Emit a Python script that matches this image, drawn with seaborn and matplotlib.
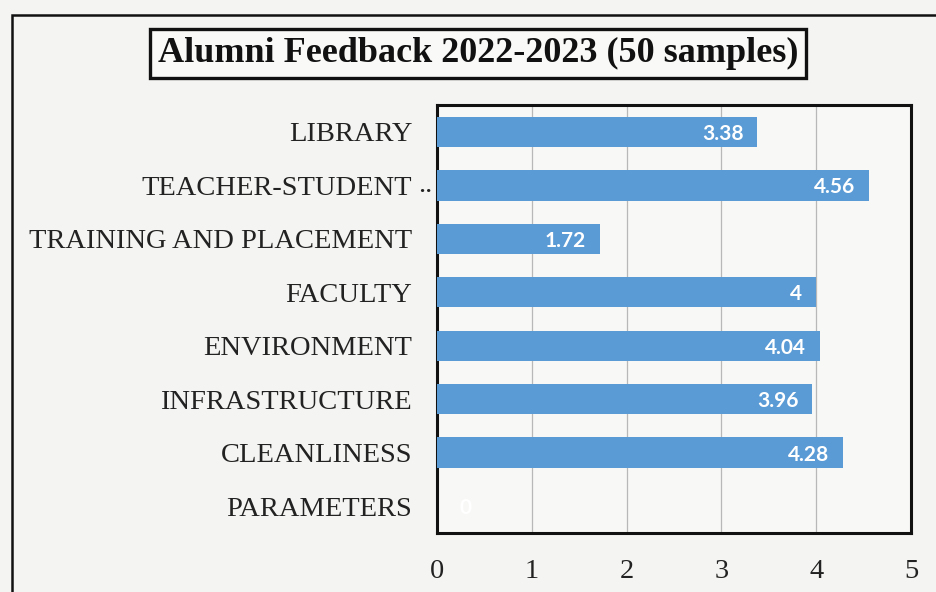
import pandas as pd
import seaborn as sns
import matplotlib.pyplot as plt
from matplotlib.patches import Rectangle

categories = ["LIBRARY", "TEACHER-STUDENT", "TRAINING AND PLACEMENT", "FACULTY",
              "ENVIRONMENT", "INFRASTRUCTURE", "CLEANLINESS", "PARAMETERS"]
scores = [3.38, 4.56, 1.72, 4, 4.04, 3.96, 4.28, 0]
x_ticks = [0, 1, 2, 3, 4, 5]

df = pd.DataFrame({"parameter": categories, "score": scores})

sns.set_style("white")
plt.rcParams["font.family"] = ["Liberation Serif", "DejaVu Serif"]

fig = plt.figure(figsize=(9.37, 5.92), dpi=100, facecolor="#f4f4f2")
ax = fig.add_axes([0.4664, 0.0997, 0.5059, 0.7229])
ax.set_facecolor("#f8f8f6")

sns.barplot(data=df, x="score", y="parameter", orient="h", color="#5b9bd5",
            width=0.57, saturation=1, linewidth=0, ax=ax, zorder=3)

ax.set_xlim(0, 5)
ax.set_ylim(7.5, -0.5)
ax.set_xticks(x_ticks)
ax.set_xlabel("")
ax.set_ylabel("")
ax.grid(axis="x", color="#b8b8b8", lw=0.9, zorder=0)
ax.tick_params(axis="both", length=0, labelsize=20.5, colors="#222222")
ax.tick_params(axis="y", pad=18)
ax.tick_params(axis="x", pad=19)
for s in ax.spines.values():
    s.set_visible(True)
    s.set_color("#111111")
    s.set_linewidth(2.2)

# truncated label ellipsis like in the original
ax.text(-0.01, 1, "..", transform=ax.get_yaxis_transform(), ha="right",
        va="center", fontsize=20.5, color="#222222")

labels = ax.bar_label(ax.containers[0], fmt="%g", padding=-10, color="white",
                      fontsize=15, fontweight="bold", family="Lato")
for t, v in zip(labels, scores):
    t.set_va("center_baseline")
    if v > 0:
        t.set_ha("right")
    else:
        t.set_ha("left")
        t.xyann = (16, t.xyann[1])

# title in a box
fig.text(0.510, 0.909, "Alumni Feedback 2022-2023 (50 samples)", ha="center",
         va="center", fontsize=26, fontweight="bold", color="#111111",
         bbox=dict(boxstyle="square,pad=0.22", fc="#f9f9f7", ec="#111111", lw=2.4))

# outer chart border
fig.patches.append(Rectangle((12 / 937, -0.05), 1.1, 1 - 15 / 592 + 0.05,
                             transform=fig.transFigure, fill=False,
                             ec="#111111", lw=1.8))

fig.savefig("out.png", dpi=100, facecolor=fig.get_facecolor())
